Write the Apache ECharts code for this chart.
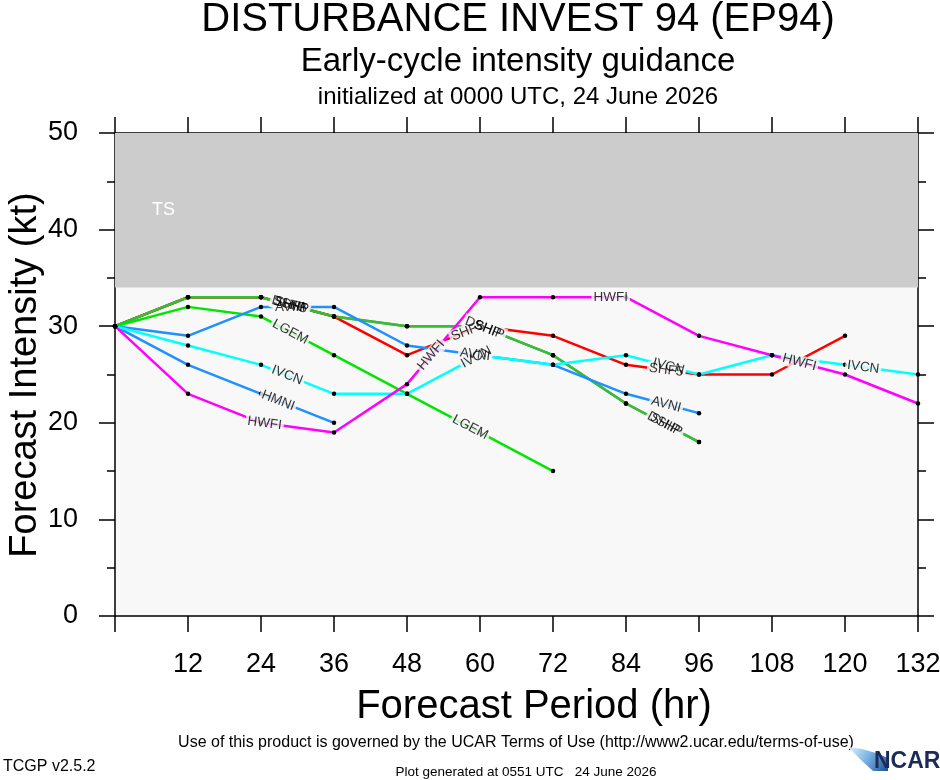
<!DOCTYPE html>
<html style="height: 100%; margin: 0;">
<head>
<meta charset="utf-8" />
<title>EP94 intensity guidance</title>
<script src="https://cdn.jsdelivr.net/npm/echarts@6/dist/echarts.min.js"></script>
</head>
<body style="height: 100%; margin: 0; background: #fff;">
<div id="main" style="width: 940px; height: 780px;"></div>
<script type="text/javascript">
var FONT = "'Liberation Sans', Arial, Helvetica, sans-serif";

// forecast hours
var hours = [0, 12, 24, 36, 48, 60, 72, 84, 96, 108, 120, 132];
var xTicks = [12, 24, 36, 48, 60, 72, 84, 96, 108, 120, 132];

// intensity (kt) per model, starting at hour 0
var SHIP = [30, 33, 33, 31, 30, 30, 27, 22, 18];
var SHF5 = [30, 33, 33, 31, 27, 30, 29, 26, 25, 25, 29];
var DSHP = [30, 33, 33, 31, 30, 30, 27, 22, 18];
var LGEM = [30, 32, 31, 27, 23, 19, 15];
var AVNI = [30, 29, 32, 32, 28, 27, 26, 23, 21];
var HMNI = [30, 26, 23, 20];
var IVCN = [30, 28, 26, 23, 23, 27, 26, 27, 25, 27, 26, 25];
var HWFI = [30, 23, 20, 19, 24, 33, 33, 33, 29, 27, 25, 22];

var tsThreshold = 34;
var yMax = 50;

// where the model names sit along each line (hours)
var labelHours = {
    SHIP: [28.8, 61.5, 90.4],
    SHF5: [28.8, 58, 90.6],
    DSHP: [28.8, 60.5, 90.4],
    LGEM: [28.8, 58.4],
    AVNI: [28.8, 59.2, 90.6],
    HMNI: [26.8],
    IVCN: [28.3, 59.4, 91, 123],
    HWFI: [24.6, 52, 81.5, 112.5]
};

var models = [
    { name: 'SHIP', data: SHIP, color: '#777777' },
    { name: 'SHF5', data: SHF5, color: '#ff0000' },
    { name: 'DSHP', data: DSHP, color: '#33c033' },
    { name: 'LGEM', data: LGEM, color: '#00e600' },
    { name: 'AVNI', data: AVNI, color: '#1e90ff' },
    { name: 'HMNI', data: HMNI, color: '#1e90ff' },
    { name: 'IVCN', data: IVCN, color: '#00ffff' },
    { name: 'HWFI', data: HWFI, color: '#ff00ff' }
];

var myChart = echarts.init(document.getElementById('main'));

var axisLine = { show: true, onZero: false, lineStyle: { color: '#000', width: 1.5 } };
var axisTick = { show: true, inside: false, length: 16, lineStyle: { color: '#000', width: 1.5 } };
var minorTick = { show: true, splitNumber: 2, length: 8, lineStyle: { color: '#000', width: 1.5 } };

myChart.setOption({
    animation: false,
    backgroundColor: '#ffffff',
    grid: {
        left: 115, top: 133, right: 22, bottom: 164,
        outerBoundsMode: 'none', containLabel: false,
        show: true, backgroundColor: '#f8f8f8', borderWidth: 0
    },
    xAxis: [{
        type: 'value', position: 'bottom', min: 0, max: 132, interval: 12,
        axisLine: axisLine, axisTick: axisTick, splitLine: { show: false },
        axisLabel: {
            fontSize: 27, color: '#000', fontFamily: FONT, margin: 35,
            formatter: function (v) { return xTicks.indexOf(v) >= 0 ? String(v) : ''; }
        }
    }, {
        type: 'value', position: 'top', min: 0, max: 132, interval: 12,
        axisLine: axisLine, axisTick: axisTick, splitLine: { show: false },
        axisLabel: { show: false }
    }],
    yAxis: [{
        type: 'value', position: 'left', min: 0, max: yMax, interval: 10,
        axisLine: axisLine, axisTick: axisTick, minorTick: minorTick,
        splitLine: { show: false }, minorSplitLine: { show: false },
        axisLabel: { fontSize: 27, color: '#000', fontFamily: FONT, margin: 37 }
    }, {
        type: 'value', position: 'right', min: 0, max: yMax, interval: 10,
        axisLine: axisLine, axisTick: axisTick, minorTick: minorTick,
        splitLine: { show: false }, minorSplitLine: { show: false },
        axisLabel: { show: false }
    }],
    graphic: [
        { type: 'text', x: 518, y: 20, style: { text: 'DISTURBANCE INVEST 94 (EP94)', font: '40px ' + FONT, fill: '#000', align: 'center', verticalAlign: 'middle' } },
        { type: 'text', x: 518, y: 62, style: { text: 'Early-cycle intensity guidance', font: '33px ' + FONT, fill: '#000', align: 'center', verticalAlign: 'middle' } },
        { type: 'text', x: 518, y: 97, style: { text: 'initialized at 0000 UTC, 24 June 2026', font: '24px ' + FONT, fill: '#000', align: 'center', verticalAlign: 'middle' } },
        { type: 'text', x: 534, y: 707, style: { text: 'Forecast Period (hr)', font: '40px ' + FONT, fill: '#000', align: 'center', verticalAlign: 'middle' } },
        { type: 'text', x: 26, y: 375, rotation: Math.PI / 2, style: { text: 'Forecast Intensity (kt)', font: '38px ' + FONT, fill: '#000', align: 'center', verticalAlign: 'middle' } },
        { type: 'text', x: 516, y: 743, style: { text: 'Use of this product is governed by the UCAR Terms of Use (http://www2.ucar.edu/terms-of-use)', font: '16px ' + FONT, fill: '#000', align: 'center', verticalAlign: 'middle' } },
        { type: 'text', x: 3, y: 767, style: { text: 'TCGP v2.5.2', font: '16px ' + FONT, fill: '#000', verticalAlign: 'middle' } },
        { type: 'text', x: 526, y: 772, style: { text: 'Plot generated at 0551 UTC   24 June 2026', font: '13.5px ' + FONT, fill: '#000', align: 'center', verticalAlign: 'middle' } },
        {
            type: 'polygon',
            shape: { points: [[848, 747], [862, 749], [876, 753], [888, 758], [888, 771], [873, 771], [863, 762], [855, 754]] },
            style: {
                fill: new echarts.graphic.LinearGradient(0, 0, 1, 1, [
                    { offset: 0, color: '#e4f2fc' },
                    { offset: 0.45, color: '#7db8e6' },
                    { offset: 1, color: '#1d4f98' }
                ])
            }
        },
        { type: 'text', x: 874, y: 762, style: { text: 'NCAR', font: 'bold 23px ' + FONT, fill: '#1b2b57', verticalAlign: 'middle' } }
    ]
});

function interp(vals, h) {
    var i = Math.min(Math.floor(h / 12), vals.length - 2);
    var t = (h - hours[i]) / 12;
    return { i: i, v: vals[i] + (vals[i + 1] - vals[i]) * t };
}

var series = [];
models.forEach(function (m) {
    series.push({
        name: m.name, type: 'line',
        data: m.data.map(function (v, k) { return [hours[k], v]; }),
        symbol: 'circle', symbolSize: 4.5, showSymbol: true,
        itemStyle: { color: '#000' },
        lineStyle: { color: m.color, width: 2.5 },
        z: 3, silent: true
    });
});

// TS band
series[0].markArea = {
    silent: true,
    itemStyle: { color: '#cccccc', opacity: 1 },
    label: { show: true, position: [37, 68], color: '#ffffff', fontSize: 18, fontFamily: FONT },
    data: [[{ name: 'TS', xAxis: 0, yAxis: tsThreshold }, { xAxis: 132, yAxis: yMax }]]
};

// model names along the lines: a blank layer that breaks the line, then the text on top
models.forEach(function (m) {
    var pts = labelHours[m.name].map(function (h) {
        var r = interp(m.data, h);
        var p1 = myChart.convertToPixel({ gridIndex: 0 }, [hours[r.i], m.data[r.i]]);
        var p2 = myChart.convertToPixel({ gridIndex: 0 }, [hours[r.i + 1], m.data[r.i + 1]]);
        var rot = Math.atan2(p1[1] - p2[1], p2[0] - p1[0]) * 180 / Math.PI;
        return { value: [h, r.v], label: { rotate: rot } };
    });
    series.push({
        type: 'scatter', data: pts, symbolSize: 0, silent: true, z: 4,
        label: {
            show: true, position: 'inside', formatter: m.name,
            color: 'rgba(0,0,0,0)', fontSize: 13.5, fontFamily: FONT,
            backgroundColor: '#f8f8f8', padding: [0, 2]
        }
    });
    series.push({
        type: 'scatter', data: pts, symbolSize: 0, silent: true, z: 6,
        label: {
            show: true, position: 'inside', formatter: m.name,
            color: '#000', fontSize: 13.5, fontFamily: FONT
        }
    });
});

myChart.setOption({ series: series });
window.onresize = myChart.resize;
</script>
</body>
</html>
